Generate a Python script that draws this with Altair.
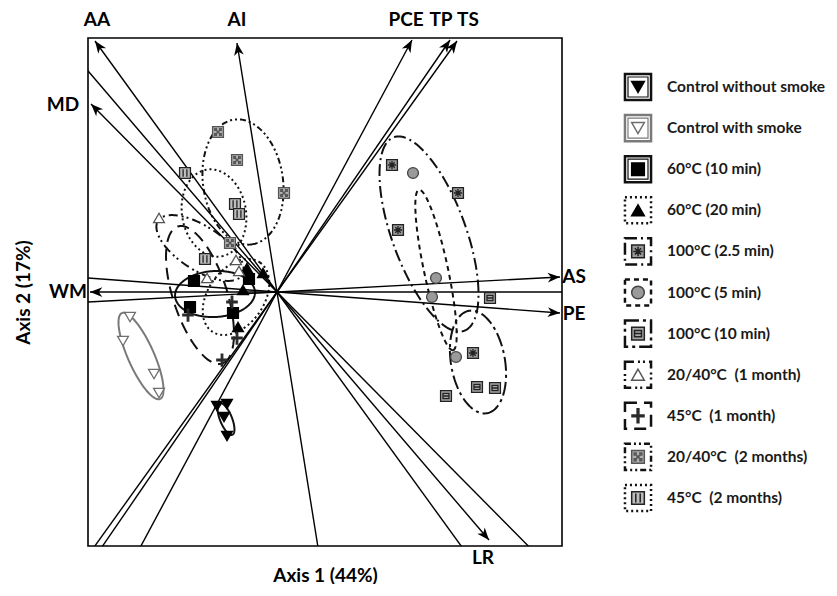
import numpy as np
import pandas as pd
import altair as alt

# ---------------- data ----------------
groups = ["Control without smoke", "Control with smoke", "60°C (10 min)", "60°C (20 min)",
          "100°C (2.5 min)", "100°C (5 min)", "100°C (10 min)", "20/40°C (1 month)",
          "45°C (1 month)", "20/40°C (2 months)", "45°C (2 months)"]
legend_labels = ["Control without smoke", "Control with smoke", "60°C (10 min)", "60°C (20 min)",
                 "100°C (2.5 min)", "100°C (5 min)", "100°C (10 min)", "20/40°C\u00a0 (1 month)",
                 "45°C\u00a0 (1 month)", "20/40°C\u00a0 (2 months)", "45°C\u00a0 (2 months)"]

# sample scores on axis 1 / axis 2 (4 replicates per treatment)
score_x = [
    [-0.60, -0.50, -0.53, -0.50],
    [-1.47, -1.54, -1.23, -1.18],
    [-0.83, -0.28, -0.87, -0.44],
    [-0.30, -0.14, -0.34, -0.39],
    [1.15, 1.81, 1.21, 1.96],
    [1.36, 1.59, 1.55, 1.79],
    [2.13, 2.00, 2.18, 1.69],
    [-1.18, -0.70, -0.41, -0.38],
    [-0.45, -0.89, -0.40, -0.55],
    [-0.59, -0.40, 0.07, -0.47],
    [-0.92, -0.42, -0.38, -0.72],
]
score_y = [
    [-1.14, -1.12, -1.25, -1.44],
    [-0.25, -0.49, -0.82, -1.01],
    [0.11, 0.13, -0.15, -0.21],
    [0.24, 0.19, 0.02, -0.35],
    [1.27, 0.99, 0.62, -0.61],
    [1.19, 0.14, -0.05, -0.65],
    [-0.06, -0.95, -0.96, -1.04],
    [0.74, 0.14, 0.32, 0.21],
    [-0.10, -0.23, -0.46, -0.68],
    [1.60, 1.32, 0.99, 0.49],
    [1.19, 0.88, 0.78, 0.33],
]

# confidence ellipses: centre, semi-axes, rotation (degrees)
ell_cx = [-0.51, -1.36, -0.62, -0.41, 1.52, 1.59, 2.01, -0.77, -0.77, -0.34, -0.63]
ell_cy = [-1.27, -0.64, -0.02, -0.05, 0.58, 0.22, -0.70, 0.44, -0.03, 1.10, 0.79]
ell_a = [0.17, 0.47, 0.40, 0.42, 1.03, 0.82, 0.52, 0.50, 0.72, 0.63, 0.44]
ell_b = [0.06, 0.13, 0.23, 0.28, 0.37, 0.12, 0.27, 0.22, 0.27, 0.40, 0.32]
ell_ang = [-68, -66, 3, 55, -70, -78, -80, -33, -72, -82, -80]

# variable loadings (arrow tips)
var_names = ["AA", "AI", "PCE", "TP", "TS", "MD", "WM", "AS", "PE", "LR"]
var_x = [-1.82, -0.40, 1.35, 1.73, 1.80, -1.86, -1.87, 2.83, 2.83, 2.12]
var_y = [2.51, 2.49, 2.52, 2.52, 2.51, 1.88, 0.00, 0.15, -0.21, -2.48]
label_x = [-1.80, -0.40, 1.29, 1.64, 1.91, -2.14, -2.09, 2.97, 2.97, 2.06]
label_y = [2.72, 2.72, 2.72, 2.72, 2.72, 1.87, 0.00, 0.15, -0.22, -2.66]

# ---------------- styles ----------------
P_ASTER = "M-1,-1H1V1H-1Z M0,-0.75V0.75 M-0.75,0H0.75 M-0.5,-0.5L0.5,0.5 M0.5,-0.5L-0.5,0.5"
P_EQ = "M-1,-1H1V1H-1Z M-0.55,-0.5H0.55V0.5H-0.55Z M-0.55,0H0.55"
P_DOTS = ("M-1,-1H1V1H-1Z M-0.6,-0.6h0.3v0.3h-0.3Z M0.3,-0.6h0.3v0.3h-0.3Z "
          "M-0.6,0.3h0.3v0.3h-0.3Z M0.3,0.3h0.3v0.3h-0.3Z M-0.15,-0.15h0.3v0.3h-0.3Z")
P_II = "M-1,-1H1V1H-1Z M-0.35,-0.7V0.7 M0.35,-0.7V0.7"
P_PLUS = "M-0.14,-1.1H0.14V-0.14H0.95V0.14H0.14V1.1H-0.14V0.14H-0.95V-0.14H-0.14Z"
ARROW = "M0,0L-0.75,1.9L0,1.35L0.75,1.9Z"

shape_range = ["triangle-down", "triangle-down", "square", "triangle-up", P_ASTER, "circle",
               P_EQ, "triangle-up", P_PLUS, P_DOTS, P_II]
fill_range = ["#000000", "#ffffff", "#000000", "#000000", "#9a9a9a", "#9a9a9a", "#a8a8a8",
              "#ffffff", "#2a2a2a", "#b0b0b0", "#bdbdbd"]
stroke_range = ["#000000", "#6e6e6e", "#000000", "#000000", "#222222", "#444444", "#222222",
                "#555555", "#2a2a2a", "#555555", "#222222"]
ell_color_range = ["#111111", "#7a7a7a", "#111111", "#111111", "#111111", "#111111", "#111111",
                   "#111111", "#111111", "#111111", "#111111"]
dash_range = [[1, 0], [1, 0], [1, 0], [2, 3], [12, 4, 2, 4], [5, 4], [14, 4, 3, 4],
              [9, 4, 2, 3, 2, 4], [12, 7], [6, 3, 2, 3, 2, 3], [2, 3]]

# ---------------- tables ----------------
pts = pd.DataFrame([{"group": g, "x": x, "y": y}
                    for g, xs, ys in zip(groups, score_x, score_y) for x, y in zip(xs, ys)])

t = np.linspace(0, 2 * np.pi, 145)
rows = []
for g, cx, cy, a, b, ang in zip(groups, ell_cx, ell_cy, ell_a, ell_b, ell_ang):
    p = np.radians(ang)
    ex = cx + a * np.cos(t) * np.cos(p) - b * np.sin(t) * np.sin(p)
    ey = cy + a * np.cos(t) * np.sin(p) + b * np.sin(t) * np.cos(p)
    for i, (u, v) in enumerate(zip(ex, ey)):
        rows.append({"group": g, "i": i, "x": float(u), "y": float(v)})
ell = pd.DataFrame(rows)

vars_df = pd.DataFrame({"var": var_names, "x": var_x, "y": var_y, "lx": label_x, "ly": label_y})
leg = pd.DataFrame({"group": groups, "label": legend_labels, "row": list(range(len(groups)))})

# ---------------- encodings ----------------
FONT = "Lato"
xs = alt.Scale(domain=[-1.89, 2.85], nice=False, zero=False)
ys = alt.Scale(domain=[-2.54, 2.54], nice=False, zero=False)
xaxis = alt.Axis(title="Axis 1 (44%)", domain=False, ticks=False, labels=False, grid=False,
                 titleFontSize=19, titleFont=FONT, titleFontWeight="bold", titleColor="#000",
                 titlePadding=20)
yaxis = alt.Axis(title="Axis 2 (17%)", domain=False, ticks=False, labels=False, grid=False,
                 titleFontSize=19, titleFont=FONT, titleFontWeight="bold", titleColor="#000",
                 titlePadding=55)


def X(f):
    return alt.X(f, type="quantitative", scale=xs, axis=xaxis)


def Y(f):
    return alt.Y(f, type="quantitative", scale=ys, axis=yaxis)


shape_enc = alt.Shape("group:N", scale=alt.Scale(domain=groups, range=shape_range), legend=None)
fill_enc = alt.Fill("group:N", scale=alt.Scale(domain=groups, range=fill_range), legend=None)
stroke_enc = alt.Stroke("group:N", scale=alt.Scale(domain=groups, range=stroke_range), legend=None)
color_enc = alt.Color("group:N", scale=alt.Scale(domain=groups, range=ell_color_range), legend=None)
dash_enc = alt.StrokeDash("group:N", scale=alt.Scale(domain=groups, range=dash_range), legend=None)

# ---------------- layers ----------------
ellipses = alt.Chart(ell).mark_line(strokeWidth=2, clip=True).encode(
    x=X("x"), y=Y("y"), color=color_enc, strokeDash=dash_enc, detail="group:N",
    order=alt.Order("i:Q"))

var_lines = alt.Chart(vars_df).transform_calculate(
    xo="-3*datum.x", yo="-3*datum.y").mark_rule(color="black", strokeWidth=1.4, clip=True).encode(
    x=X("x"), y=Y("y"), x2="xo:Q", y2="yo:Q")

heads = alt.Chart(vars_df).transform_calculate(
    ang="(atan2(datum.x, datum.y) * 180 / PI + 360) % 360").mark_point(
    shape=ARROW, filled=True, color="black", size=169, opacity=1).encode(
    x=X("x"), y=Y("y"), angle=alt.Angle("ang:Q", scale=None))

markers = alt.Chart(pts).mark_point(size=118, strokeWidth=1.3, opacity=1, filled=False).encode(
    x=X("x"), y=Y("y"), shape=shape_enc, fill=fill_enc, stroke=stroke_enc)

var_labels = alt.Chart(vars_df).mark_text(
    font=FONT, fontSize=19, fontWeight="bold", color="black", baseline="middle").encode(
    x=X("lx"), y=Y("ly"), text="var:N")

# legend, drawn beside the plot
LEG_X, TXT_X, LEG_TOP, LEG_STEP = 3.61, 3.90, 2.05, 0.411
leg_base = alt.Chart(leg).transform_calculate(
    ly=f"{LEG_TOP} - {LEG_STEP} * datum.row", bx=f"{LEG_X}", tx=f"{TXT_X}")

leg_box = leg_base.mark_point(shape="square", size=680, filled=False, strokeWidth=2.5,
                              opacity=1).encode(
    x=X("bx:Q"), y=Y("ly:Q"), color=color_enc, strokeDash=dash_enc)
leg_inner = leg_base.transform_filter("datum.row < 3").mark_point(
    shape="square", size=400, filled=False, strokeWidth=1.2, opacity=1).encode(
    x=X("bx:Q"), y=Y("ly:Q"), color=color_enc)
leg_sym = leg_base.mark_point(size=160, strokeWidth=1.5, opacity=1, filled=False).encode(
    x=X("bx:Q"), y=Y("ly:Q"), shape=shape_enc, fill=fill_enc, stroke=stroke_enc)
leg_text = leg_base.mark_text(align="left", baseline="middle", font=FONT, fontSize=15.5,
                              fontWeight="bold", color="#1a1a1a").encode(
    x=X("tx:Q"), y=Y("ly:Q"), text="label:N")

chart = alt.layer(
    ellipses, var_lines, heads, markers, var_labels, leg_box, leg_inner, leg_sym, leg_text
).properties(
    width=474, height=508,
    autosize=alt.AutoSizeParams(type="none"),
    padding={"left": 80, "top": 30, "right": 267, "bottom": 38},
    background="white",
).configure_view(stroke="black", strokeWidth=1.6)

chart.save("out.html", embed_options={"renderer": "svg", "actions": False})
